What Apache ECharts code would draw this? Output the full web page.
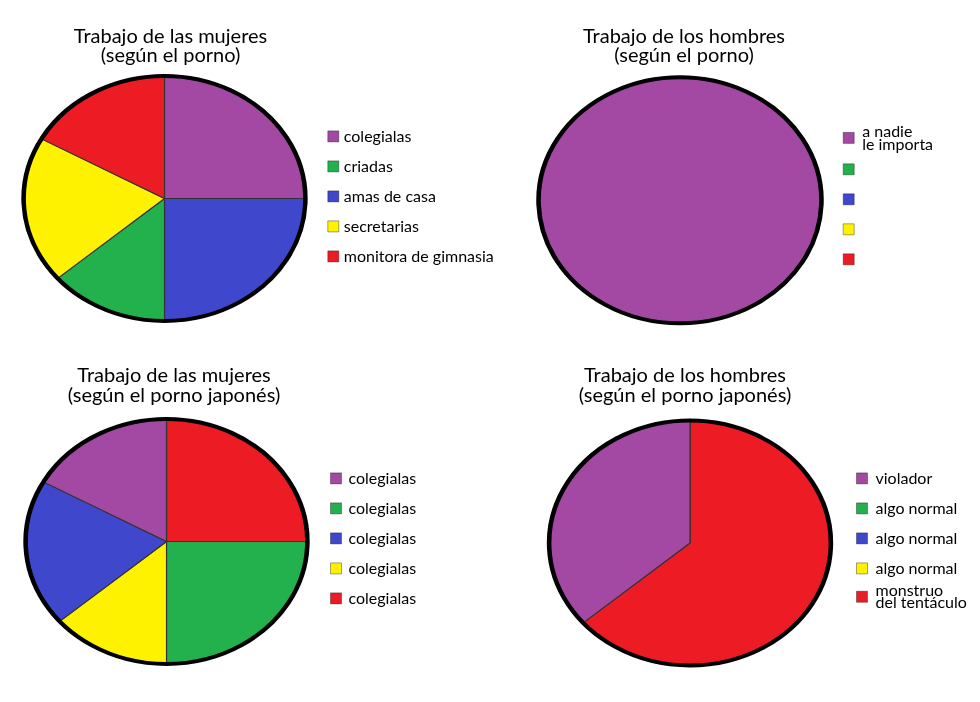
<!DOCTYPE html>
<html>
<head>
<meta charset="utf-8">
<script src="https://cdn.jsdelivr.net/npm/echarts@6/dist/echarts.min.js"></script>
<style>
html, body { margin: 0; padding: 0; background: #fff; }
#wrap { position: relative; width: 980px; height: 702px; overflow: hidden; background: #fff; }
#pies { position: absolute; left: 0; top: 0; height: 702px; transform-origin: 0 0; }
#text { position: absolute; left: 0; top: 0; width: 980px; height: 702px; }
</style>
</head>
<body>
<div id="wrap"><div id="pies"></div><div id="text"></div></div>
<script>
// ---------- data ----------
const sliceColors = ['#A349A4', '#22B14C', '#3F48CC', '#FFF200', '#ED1C24']; // purple, green, blue, yellow, red

const titles = [
  'Trabajo de las mujeres\n(según el porno)',
  'Trabajo de los hombres\n(según el porno)',
  'Trabajo de las mujeres\n(según el porno japonés)',
  'Trabajo de los hombres\n(según el porno japonés)'
];

// legend order (purple, green, blue, yellow, red); order = slices clockwise from 12 o'clock
const womenLabels = ['colegialas', 'criadas', 'amas de casa', 'secretarias', 'monitora de gimnasia'];
const womenValues = [25, 13.7, 25, 19.4, 16.9];
const womenOrder = [0, 2, 1, 3, 4];

const menLabels = ['a nadie\nle importa', '', '', '', ''];
const menValues = [100, 0, 0, 0, 0];
const menOrder = [0, 1, 2, 3, 4];

const womenJpLabels = ['colegialas', 'colegialas', 'colegialas', 'colegialas', 'colegialas'];
const womenJpValues = [16.9, 25, 19.4, 13.7, 25];
const womenJpOrder = [4, 1, 3, 2, 0];

const menJpLabels = ['violador', 'algo normal', 'algo normal', 'algo normal', 'monstruo\ndel tentáculo'];
const menJpValues = [36.3, 0, 0, 0, 63.7];
const menJpOrder = [4, 0, 1, 2, 3];

// ---------- layout ----------
const S = 1.15; // horizontal stretch of the pies (ellipses)
const FONT = 'Lato, "Open Sans", sans-serif';

const charts = [
  { labels: womenLabels, values: womenValues, order: womenOrder,
    cx: 164.5, cy: 198.5, r: 122.5, titleX: 170.5, titleY: 26.5,
    legends: [{ items: [0, 1, 2, 3, 4], left: 327.3, top: 128.4, pad: 0, lh: 14 }] },
  { labels: menLabels, values: menValues, order: menOrder,
    cx: 680, cy: 200.3, r: 123, titleX: 684, titleY: 26.5,
    legends: [{ items: [0], left: 842.7, top: 123.4, pad: 3, lh: 13 },
              { items: [1, 2, 3, 4], left: 842.7, top: 161.3, pad: 3, lh: 14 }] },
  { labels: womenJpLabels, values: womenJpValues, order: womenJpOrder,
    cx: 166.5, cy: 541.5, r: 122.5, titleX: 174, titleY: 366,
    legends: [{ items: [0, 1, 2, 3, 4], left: 330, top: 470.4, pad: 2, lh: 14 }] },
  { labels: menJpLabels, values: menJpValues, order: menJpOrder,
    cx: 690, cy: 543, r: 122.5, titleX: 685, titleY: 366,
    legends: [{ items: [0, 1, 2, 3], left: 856, top: 470.4, pad: 3, lh: 14 },
              { items: [4], left: 856, top: 582.5, pad: 3, lh: 12.5 }] }
];

const key = (ci, i) => 'c' + ci + '_' + i;
const labelOf = {};
charts.forEach((c, ci) => c.labels.forEach((l, i) => { labelOf[key(ci, i)] = l; }));

function sliceData(c, ci, withBorder) {
  return c.order.map(i => ({
    name: key(ci, i),
    value: c.values[i],
    itemStyle: {
      color: sliceColors[i],
      borderColor: '#333',
      borderWidth: withBorder && c.values[i] > 0 ? 1 : 0
    }
  }));
}

// ---------- pies (stretched into ellipses) ----------
const piesEl = document.getElementById('pies');
piesEl.style.width = (980 / S) + 'px';
piesEl.style.transform = 'scaleX(' + S + ')';
const pieChart = echarts.init(piesEl, null, { renderer: 'svg' });

const pieSeries = [];
charts.forEach((c, ci) => {
  const common = {
    type: 'pie', center: [c.cx / S, c.cy], radius: [0, c.r],
    startAngle: 90, clockwise: true, silent: true, animation: false,
    label: { show: false }, labelLine: { show: false }, emphasis: { disabled: true }
  };
  pieSeries.push(Object.assign({}, common, { data: sliceData(c, ci, true), z: 2 }));
  const total = c.values.reduce((a, b) => a + b, 0);
  pieSeries.push(Object.assign({}, common, {
    z: 3,
    data: [{ name: 'outline' + ci, value: total,
             itemStyle: { color: 'rgba(0,0,0,0)', borderColor: '#000', borderWidth: 4 } }]
  }));
});
pieChart.setOption({ backgroundColor: 'transparent', animation: false, series: pieSeries });

// ---------- titles and legends ----------
const textChart = echarts.init(document.getElementById('text'));
const legends = [];
charts.forEach((c, ci) => {
  c.legends.forEach(L => {
    legends.push({
      orient: 'vertical', left: L.left, top: L.top, padding: 0,
      itemGap: 14, itemWidth: 11, itemHeight: 11,
      icon: 'rect', selectedMode: false,
      data: L.items.map(i => key(ci, i)),
      formatter: name => labelOf[name] || ' ',
      itemStyle: { borderColor: 'rgba(0,0,0,0.35)', borderWidth: 1 },
      textStyle: { fontFamily: FONT, fontSize: 16, color: '#000', lineHeight: L.lh, padding: [0, 0, 0, L.pad] }
    });
  });
});

textChart.setOption({
  backgroundColor: 'transparent',
  animation: false,
  title: charts.map((c, ci) => ({
    text: titles[ci], left: c.titleX, top: c.titleY, padding: 0,
    textAlign: 'center', textVerticalAlign: 'top',
    textStyle: { fontFamily: FONT, fontSize: 20, fontWeight: 'normal', color: '#000', lineHeight: 19.5 }
  })),
  legend: legends,
  series: charts.map((c, ci) => ({
    type: 'pie', center: [c.cx, c.cy], radius: [0, 0], silent: true, animation: false,
    label: { show: false }, labelLine: { show: false }, emphasis: { disabled: true },
    data: sliceData(c, ci, false)
  }))
});
</script>
</body>
</html>
